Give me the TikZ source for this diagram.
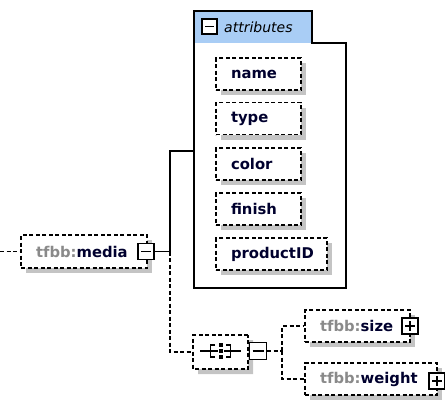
\documentclass[tikz,border=0pt]{standalone}
\usepackage{fontspec}
\setmainfont{DejaVu Sans}
\usetikzlibrary{shapes.misc,shadows}
\definecolor{navy}{HTML}{00002E}
\definecolor{pfx}{HTML}{8A8A8A}
\definecolor{hdr}{HTML}{A9CDF5}
\definecolor{shd}{HTML}{C4C4C4}
\tikzset{
  dsh/.style={line width=1.1pt, dash pattern=on 4pt off 2.5pt},
  sol/.style={line width=1.2pt},
  shad/.style={drop shadow={shadow xshift=5pt, shadow yshift=-5pt, fill=shd, opacity=1}},
  ebox/.style={draw, dsh, fill=white, shad, minimum height=32pt, inner xsep=15pt, inner ysep=0pt,
    align=left, text=navy, font=\bfseries\fontsize{14.8}{16}\selectfont},
  sgn/.style={draw, sol, fill=white, minimum size=16pt, inner sep=0pt},
  minusbox/.style={sgn, path picture={\draw[line width=1.2pt] ([xshift=3pt]path picture bounding box.west) -- ([xshift=-3pt]path picture bounding box.east);}},
  plusbox/.style={sgn, path picture={\draw[line width=1.2pt] ([xshift=3pt]path picture bounding box.west) -- ([xshift=-3pt]path picture bounding box.east);
      \draw[line width=1.2pt] ([yshift=-3pt]path picture bounding box.north) -- ([yshift=3pt]path picture bounding box.south);}},
  seqbox/.style={draw, dsh, fill=white, shad, chamfered rectangle, chamfered rectangle xsep=6pt, chamfered rectangle corners={north west,north east,south west,south east},
    minimum width=55pt, minimum height=34pt, inner sep=0pt},
  dot/.style={fill=black, draw=white, line width=0.6pt},
}
\begin{document}
\begin{tikzpicture}[x=1pt,y=-1pt]
\useasboundingbox (0,0) rectangle (445,400);
% attributes group
\fill[hdr] (194,11) rectangle (312,43);
\draw[line width=1.3pt] (194,288) -- (194,11) -- (312,11) -- (312,43) -- (346,43) -- (346,288) -- cycle;
\node[minusbox, minimum size=15pt] (attrminus) at (209.5,26.5) {};
\node[anchor=west, inner sep=0pt, font=\itshape\fontsize{14}{16}\selectfont] (attrlbl) at (224,27) {attributes};
\coordinate (attrL) at (194,151);

\node[ebox, text width=55pt] (name) at (258.5,74) {name};
\node[ebox, text width=55pt] (type) at (258.5,118.5) {type};
\node[ebox, text width=55pt] (color) at (258.5,164) {color};
\node[ebox, text width=55pt] (finish) at (258.5,209) {finish};
\node[ebox, text width=81pt] (productID) at (271.5,254) {productID};

% media
\node[ebox, text width=96pt, minimum height=33pt] (media) at (84,251.5) {\textcolor{pfx}{tfbb:}media};
\node[minusbox] (mediaminus) at (146,251.5) {};
\coordinate (stub) at (0,251.5);
\coordinate (jA) at (170,251.5);
\draw[dsh] (stub) -- (media.west);
\draw[sol] (mediaminus.east) -- (jA) |- (attrL);

% sequence
\node[seqbox] (seq) at (220.5,352) {};
\node[minusbox, minimum size=17pt] (seqminus) at (258,351) {};
\draw[dsh] (jA) |- (seq.west);
% sequence symbol
\draw[line width=1.2pt] (200,351) -- (241,351);
\draw[line width=1.2pt] (215,345) -- (210.5,345) -- (210.5,357) -- (215,357);
\draw[line width=1.2pt] (226,345) -- (230.5,345) -- (230.5,357) -- (226,357);
\filldraw[dot] (218,342) rectangle (223.5,347.5);
\filldraw[dot] (218,348) rectangle (223.5,353.5);
\filldraw[dot] (218,354) rectangle (223.5,359.5);

% children
\node[ebox, text width=75pt] (size) at (357.5,326) {\textcolor{pfx}{tfbb:}size};
\node[plusbox] (sizeplus) at (410,326) {};
\node[ebox, text width=102pt] (weight) at (371,379) {\textcolor{pfx}{tfbb:}weight};
\node[plusbox] (weightplus) at (437,381) {};
\coordinate (jB) at (282,351);
\draw[dsh] (seqminus.east) -- (jB);
\draw[dsh] (jB) |- (size.west);
\draw[dsh] (jB) |- (weight.west);
\end{tikzpicture}
\end{document}
